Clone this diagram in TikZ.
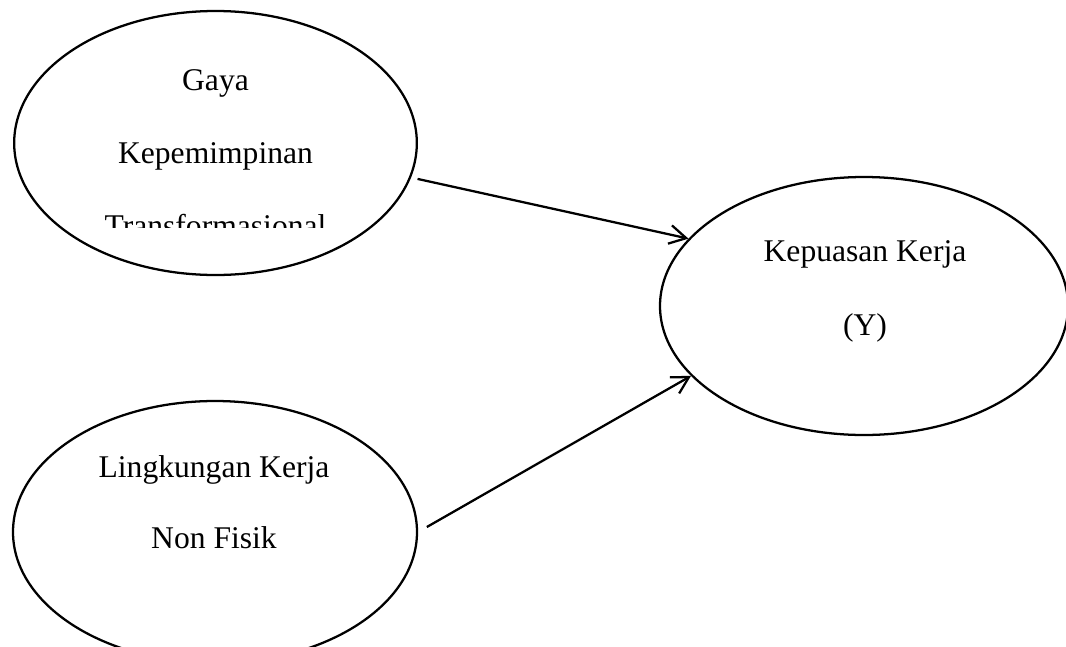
\documentclass[tikz,border=0pt]{standalone}
\usepackage{fontspec}
\setmainfont{Liberation Serif}
\usepackage{tikz}
\usetikzlibrary{positioning,shapes.geometric,arrows.meta}

\begin{document}
\begin{tikzpicture}[x=0.75pt,y=-0.75pt,>={Straight Barb[length=12.5pt,width=14pt]},
  var/.style={draw,ellipse,line width=1.7pt,inner sep=0pt},
  lbl/.style={anchor=base,font=\fontsize{23.7pt}{28pt}\selectfont}]
\useasboundingbox (0,0) rectangle (1066,646);
\clip (0,0) rectangle (1066,646);
% variables
\node[var,minimum width=302pt,minimum height=198pt] (gaya) at (215.5,143) {};
\node[var,minimum width=306pt,minimum height=193.5pt] (kepuasan) at (864,306) {};
\node[var,minimum width=303pt,minimum height=196.5pt] (lingkungan) at (215,532) {};
% labels
\node[lbl] (gaya1) at (215.5,90) {Gaya};
\node[lbl] (gaya2) at (215.5,163) {Kepemimpinan};
\begin{scope}
\clip (60,180) rectangle (380,227);
\node[lbl] (gaya3) at (215.5,236) {Transformasional};
\end{scope}
\node[lbl] (kep1) at (865,261) {Kepuasan Kerja};
\node[lbl] (kep2) at (865,335) {(Y)};
\node[lbl] (ling1) at (214,477) {Lingkungan Kerja};
\node[lbl] (ling2) at (214,548) {Non Fisik};
% arrows
\draw[->,line width=1.7pt,shorten <=5pt] (gaya.-10) -- (kepuasan.159);
\draw[->,line width=1.7pt,shorten <=7.5pt] (lingkungan.east) -- (kepuasan.202.7);
\end{tikzpicture}
\end{document}
